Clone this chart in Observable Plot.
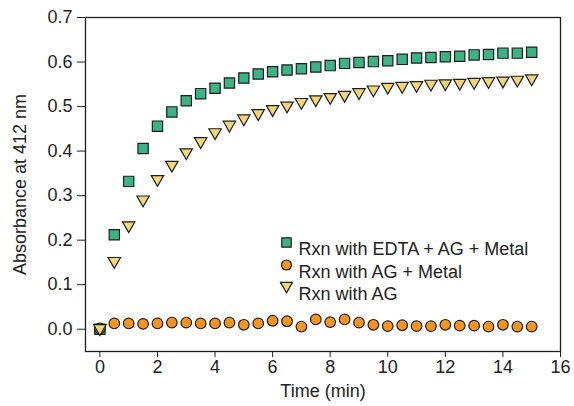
<!DOCTYPE html>
<html>
<head>
<meta charset="utf-8">
<script src="https://cdn.jsdelivr.net/npm/d3@7"></script>
<script src="https://cdn.jsdelivr.net/npm/@observablehq/plot@0.6"></script>
<style>
  html, body { margin: 0; padding: 0; background: #fff; }
</style>
</head>
<body>
<div id="chart"></div>
<script>
const times = [0, 0.5, 1, 1.5, 2, 2.5, 3, 3.5, 4, 4.5, 5, 5.5, 6, 6.5, 7, 7.5, 8, 8.5, 9, 9.5, 10, 10.5, 11, 11.5, 12, 12.5, 13, 13.5, 14, 14.5, 15];
const edtaAgMetal = [0.000, 0.212, 0.332, 0.406, 0.456, 0.488, 0.513, 0.529, 0.541, 0.553, 0.564, 0.573, 0.578, 0.582, 0.585, 0.589, 0.592, 0.597, 0.599, 0.601, 0.603, 0.606, 0.609, 0.610, 0.612, 0.613, 0.616, 0.617, 0.620, 0.620, 0.622];
const agMetal = [0.002, 0.013, 0.013, 0.012, 0.013, 0.015, 0.015, 0.013, 0.013, 0.015, 0.010, 0.013, 0.019, 0.018, 0.006, 0.022, 0.016, 0.022, 0.015, 0.010, 0.007, 0.009, 0.007, 0.007, 0.010, 0.008, 0.008, 0.006, 0.010, 0.006, 0.006];
const agOnly = [-0.002, 0.149, 0.229, 0.287, 0.333, 0.365, 0.393, 0.418, 0.438, 0.455, 0.469, 0.481, 0.490, 0.498, 0.506, 0.512, 0.517, 0.522, 0.528, 0.534, 0.540, 0.542, 0.544, 0.547, 0.548, 0.549, 0.551, 0.553, 0.554, 0.556, 0.559];
const seriesNames = ["Rxn with EDTA + AG + Metal", "Rxn with AG + Metal", "Rxn with AG"];
const xTicks = [0, 2, 4, 6, 8, 10, 12, 14, 16];
const yTicks = [0.0, 0.1, 0.2, 0.3, 0.4, 0.5, 0.6, 0.7];
const xLabel = "Time (min)";
const yLabel = "Absorbance at 412 nm";

const toRows = (vals) => times.map((t, i) => ({t, v: vals[i]}));

// downward-pointing triangle symbol centered on its bounding box
const triangleDown = {
  draw(ctx, size) {
    const r = Math.sqrt(size / Math.PI);
    const a = r * 2.3, h = a * 0.87;
    ctx.moveTo(-a / 2, -h / 2);
    ctx.lineTo(a / 2, -h / 2);
    ctx.lineTo(0, h / 2);
    ctx.closePath();
  }
};

const green = "#3bb385", orange = "#f7941e", yellow = "#f2d677", ink = "#1e1e1e";
const font = "'Liberation Sans', Arial, Helvetica, sans-serif";
const fs = 18;

const chart = Plot.plot({
  width: 574,
  height: 406,
  marginLeft: 85,
  marginRight: 14,
  marginTop: 17,
  marginBottom: 55,
  style: {fontFamily: font, fontSize: fs + "px", color: "#222", background: "#fff"},
  x: {domain: [-0.5, 16]},
  y: {domain: [-0.05, 0.7]},
  marks: [
    Plot.axisX({ticks: xTicks, tickSize: 6, tickPadding: 3, label: null, fontSize: fs}),
    Plot.axisY({ticks: yTicks, tickSize: 8, tickPadding: 5, tickFormat: d => d.toFixed(1), label: null, fontSize: fs}),
    Plot.frame({stroke: ink, strokeWidth: 1.3}),
    Plot.dot(toRows(edtaAgMetal), {x: "t", y: "v", symbol: "square", r: 5.8, fill: green, stroke: ink, strokeWidth: 1.2}),
    Plot.dot(toRows(agMetal), {x: "t", y: "v", symbol: "circle", r: 5.3, fill: orange, stroke: ink, strokeWidth: 1.2}),
    Plot.dot(toRows(agOnly), {x: "t", y: "v", symbol: triangleDown, r: 5.4, fill: yellow, stroke: ink, strokeWidth: 1.2}),
    // legend
    Plot.dot([seriesNames[0]], {frameAnchor: "top-left", dx: 201, dy: 225, symbol: "square", r: 5.3, fill: green, stroke: ink, strokeWidth: 1.2}),
    Plot.dot([seriesNames[1]], {frameAnchor: "top-left", dx: 201, dy: 247.5, symbol: "circle", r: 5.0, fill: orange, stroke: ink, strokeWidth: 1.2}),
    Plot.dot([seriesNames[2]], {frameAnchor: "top-left", dx: 201, dy: 270, symbol: triangleDown, r: 5.2, fill: yellow, stroke: ink, strokeWidth: 1.2}),
    Plot.text([seriesNames[0]], {text: d => d, frameAnchor: "top-left", dx: 213, dy: 225, textAnchor: "start", fontSize: fs, fill: "#222"}),
    Plot.text([seriesNames[1]], {text: d => d, frameAnchor: "top-left", dx: 213, dy: 247.5, textAnchor: "start", fontSize: fs, fill: "#222"}),
    Plot.text([seriesNames[2]], {text: d => d, frameAnchor: "top-left", dx: 213, dy: 270, textAnchor: "start", fontSize: fs, fill: "#222"}),
    // axis titles
    Plot.text([xLabel], {text: d => d, frameAnchor: "bottom", dy: 45, textAnchor: "middle", fontSize: fs, fill: "#222"}),
    Plot.text([yLabel], {text: d => d, frameAnchor: "left", dx: -65, rotate: -90, textAnchor: "middle", fontSize: fs, fill: "#222"})
  ]
});
document.getElementById("chart").appendChild(chart);
</script>
</body>
</html>
